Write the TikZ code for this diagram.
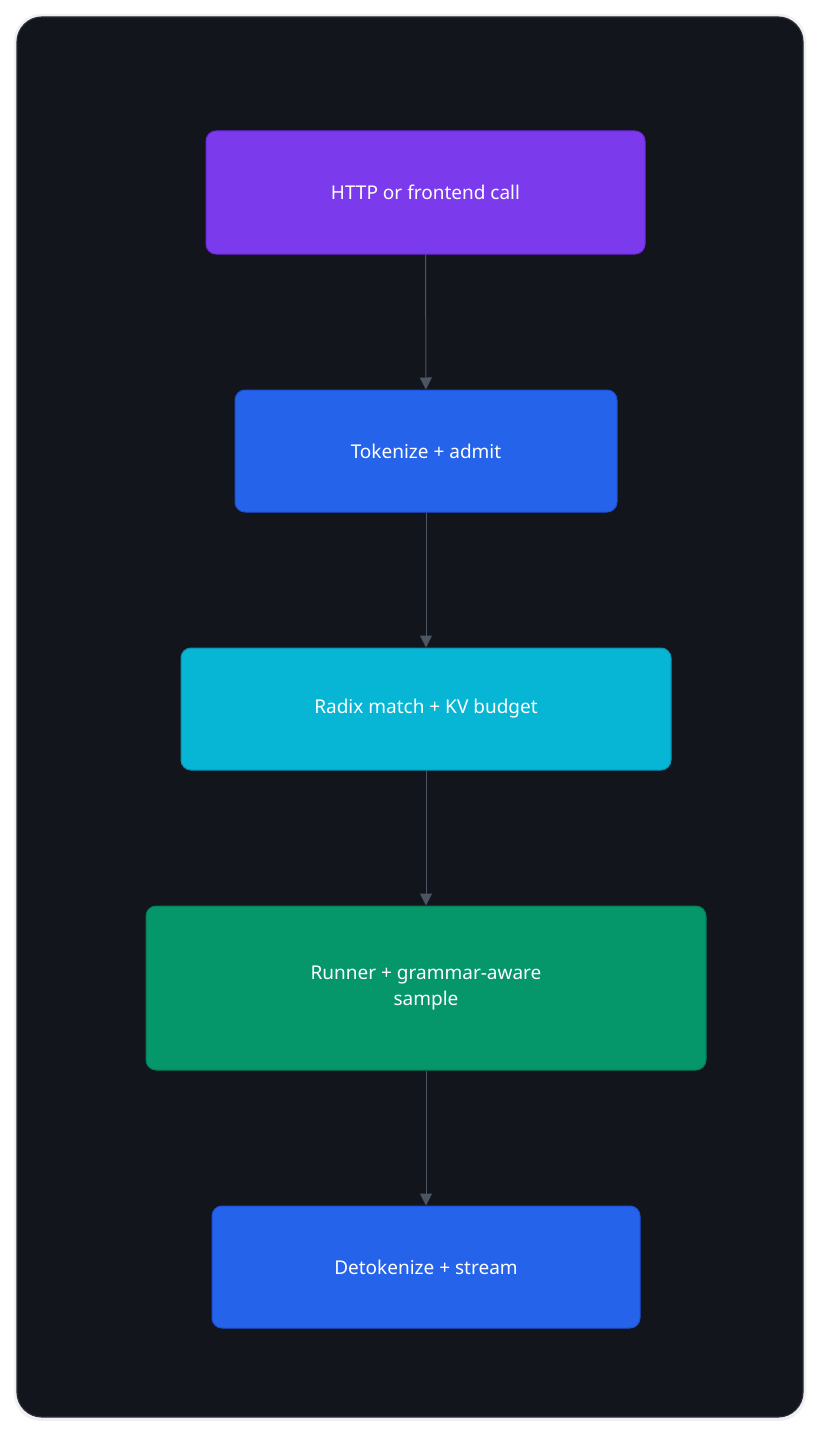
\documentclass[tikz,border=0pt]{standalone}
\usepackage{fontspec}
\setmainfont{Noto Sans}
\usetikzlibrary{arrows.meta}
\definecolor{panel}{HTML}{13151C}
\definecolor{pborder}{HTML}{2A2D38}
\definecolor{cpurple}{HTML}{7C3AED}
\definecolor{bpurple}{HTML}{6D28D9}
\definecolor{cblue}{HTML}{2563EB}
\definecolor{bblue}{HTML}{1D4ED8}
\definecolor{ccyan}{HTML}{06B6D4}
\definecolor{bcyan}{HTML}{0891B2}
\definecolor{cgreen}{HTML}{059669}
\definecolor{bgreen}{HTML}{047857}
\definecolor{arr}{HTML}{4B5563}
\begin{document}
\begin{tikzpicture}[x=1pt,y=-1pt,
 box/.style={draw, line width=1pt, rounded corners=10pt, text=white, font=\fontsize{19}{26}\selectfont, align=center, inner sep=0pt},
 link/.style={draw=arr, line width=1pt, -{Triangle[length=12pt,width=12pt]}}]
\useasboundingbox (0,0) rectangle (820,1434);
\fill[white] (0,0) rectangle (820,1434);
\fill[black!6, rounded corners=27pt] (14,14) rectangle (806,1421);
\filldraw[fill=panel, draw=pborder, line width=1.2pt, rounded corners=25pt] (17,17) rectangle (803,1417);
\node[box, fill=cpurple, draw=bpurple, minimum width=439pt, minimum height=123pt] (a) at (425.5,192.5) {HTTP or frontend call};
\node[box, fill=cblue, draw=bblue, minimum width=382pt, minimum height=122pt] (b) at (426,451) {Tokenize + admit};
\node[box, fill=ccyan, draw=bcyan, minimum width=490pt, minimum height=122pt] (c) at (426,709) {Radix match + KV budget};
\node[box, fill=cgreen, draw=bgreen, minimum width=560pt, minimum height=164pt] (d) at (426,988) {Runner + grammar-aware\\sample};
\node[box, fill=cblue, draw=bblue, minimum width=428pt, minimum height=122pt] (e) at (426,1267) {Detokenize + stream};
\draw[link] (a) -- (b);
\draw[link] (b) -- (c);
\draw[link] (c) -- (d);
\draw[link] (d) -- (e);
\end{tikzpicture}
\end{document}
